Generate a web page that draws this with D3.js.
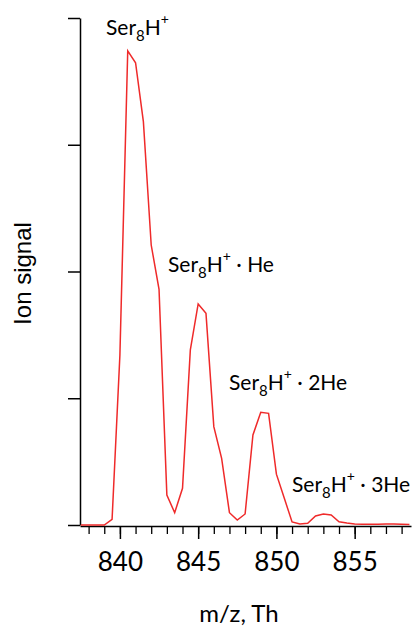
<!DOCTYPE html>
<html>
<head>
<meta charset="utf-8">
<script src="https://cdn.jsdelivr.net/npm/d3@7"></script>
<style>
  html, body { margin: 0; padding: 0; background: #fff; }
  svg { display: block; }
  .lbl { font-family: Lato, "Noto Sans", sans-serif; fill: #000; }
</style>
</head>
<body>
<svg id="chart" width="412" height="628"></svg>
<script>
// Mass spectrum of protonated serine octamer with attached helium atoms
const mz = [
  837.5, 838, 838.5, 839, 839.5, 840, 840.5, 841, 841.5, 842, 842.5, 843,
  843.5, 844, 844.5, 845, 845.5, 846, 846.5, 847, 847.5, 848, 848.5, 849,
  849.5, 850, 850.5, 851, 851.5, 852, 852.5, 853, 853.5, 854, 854.5, 855,
  855.5, 856, 856.5, 857, 857.5, 858, 858.5
];
const signal = [
  0.000, 0.000, 0.000, 0.000, 0.045, 1.341, 3.740, 3.647, 3.182, 2.209, 1.860, 0.237,
  0.097, 0.290, 1.381, 1.744, 1.670, 0.776, 0.526, 0.097, 0.039, 0.087, 0.710, 0.889,
  0.881, 0.401, 0.213, 0.024, 0.008, 0.013, 0.071, 0.087, 0.079, 0.026, 0.016, 0.008,
  0.006, 0.006, 0.006, 0.008, 0.008, 0.006, 0.004
];
const yTicks = [0, 1, 2, 3, 4];
const xMajorTicks = [840, 845, 850, 855];
const xMinorTicks = d3.range(838, 859, 1);
const peakLabels = [
  { n: "", x: 106, y: 35 },
  { n: "He", x: 168, y: 272 },
  { n: "2He", x: 229, y: 390 },
  { n: "3He", x: 292, y: 492 }
];

const svg = d3.select("#chart");
const plotLeft = 80, plotRight = 411, plotTop = 18, plotBottom = 525;

const x = d3.scaleLinear().domain([837.45, 858.6]).range([plotLeft, plotRight]);
const y = d3.scaleLinear().domain([0, 4]).range([plotBottom, plotTop]);

// y axis: ticks only, no labels
const yAxis = svg.append("g")
  .attr("transform", `translate(${plotLeft},0)`)
  .call(d3.axisLeft(y).tickValues(yTicks).tickSize(12).tickFormat("").tickSizeOuter(0));
yAxis.select(".domain").attr("stroke", "#000").attr("stroke-width", 1.5);
yAxis.selectAll(".tick line").attr("stroke", "#000").attr("stroke-width", 1.5);

// x axis: minor ticks every 1 Th
const xMinor = svg.append("g")
  .attr("transform", `translate(0,${plotBottom + 1})`)
  .call(d3.axisBottom(x).tickValues(xMinorTicks).tickSize(8).tickFormat("").tickSizeOuter(0));
xMinor.select(".domain").attr("stroke", "#000").attr("stroke-width", 1.5);
xMinor.selectAll(".tick line").attr("stroke", "#000").attr("stroke-width", 1.3);

// x axis: labelled major ticks
const xMajor = svg.append("g")
  .attr("transform", `translate(0,${plotBottom + 1})`)
  .call(d3.axisBottom(x).tickValues(xMajorTicks).tickSize(13).tickFormat(d3.format("d")).tickSizeOuter(0));
xMajor.select(".domain").remove();
xMajor.selectAll(".tick line").attr("stroke", "#000").attr("stroke-width", 1.5);
xMajor.selectAll(".tick text")
  .attr("y", 45).attr("dy", null)
  .attr("font-family", "Lato, Noto Sans, sans-serif")
  .attr("font-size", 26)
  .attr("fill", "#000");

// spectrum trace
const line = d3.line().x((d, i) => x(mz[i])).y(d => y(d));
svg.append("path")
  .datum(signal)
  .attr("fill", "none")
  .attr("stroke", "#ef2a2a")
  .attr("stroke-width", 1.5)
  .attr("stroke-linejoin", "miter")
  .attr("d", line);

// axis titles
svg.append("text").attr("class", "lbl")
  .attr("x", 239).attr("y", 622)
  .attr("text-anchor", "middle")
  .attr("font-size", 24)
  .text("m/z, Th");

svg.append("text")
  .attr("transform", `translate(31,${(plotTop + plotBottom) / 2 + 2}) rotate(-90)`)
  .attr("text-anchor", "middle")
  .attr("font-family", "Liberation Sans, Arial, sans-serif")
  .attr("font-size", 24)
  .attr("fill", "#000")
  .text("Ion signal");

// peak annotations: Ser8H+ · nHe
peakLabels.forEach(p => {
  const t = svg.append("text").attr("class", "lbl")
    .attr("x", p.x).attr("y", p.y).attr("font-size", 21);
  t.append("tspan").text("Ser");
  t.append("tspan").attr("font-size", 15).attr("dy", 6).text("8");
  t.append("tspan").attr("dy", -6).text("H");
  t.append("tspan").attr("font-size", 14).attr("dy", -11).text("+");
  if (p.n) {
    t.append("tspan").attr("dy", 11).text(" \u00B7 " + p.n);
  }
});
</script>
</body>
</html>
